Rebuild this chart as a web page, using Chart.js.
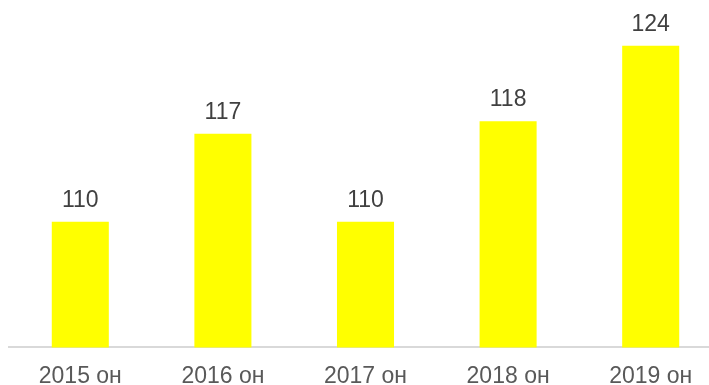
<!DOCTYPE html>
<html>
<head>
<meta charset="utf-8">
<script src="https://cdn.jsdelivr.net/npm/chart.js@4"></script>
<style>
  html, body { margin: 0; padding: 0; background: #fff; overflow: hidden; }
  #wrap { width: 722px; height: 397px; position: relative; }
</style>
</head>
<body>
<div id="wrap"><canvas id="salesChart"></canvas></div>
<script>
'use strict';

let years = ['2015 он', '2016 он', '2017 он', '2018 он', '2019 он'];
let values = [110, 117, 110, 118, 124];

// value labels above each bar
let barLabels = {
  id: 'barLabels',
  afterDatasetsDraw(chart) {
    let ctx = chart.ctx;
    let meta = chart.getDatasetMeta(0);
    ctx.save();
    ctx.font = '23px "Liberation Sans", Arial, sans-serif';
    ctx.fillStyle = '#404040';
    ctx.textAlign = 'center';
    ctx.textBaseline = 'alphabetic';
    for (let i = 0; i < meta.data.length; i++) {
      let bar = meta.data[i];
      ctx.fillText(values[i], bar.x, bar.y - 15);
    }
    ctx.restore();
  }
};

let config = {
  type: 'bar',
  data: {
    labels: years,
    datasets: [
      {
        data: values,
        backgroundColor: '#ffff00',
        borderWidth: 0,
        barPercentage: 0.4,
        categoryPercentage: 1
      }
    ]
  },
  options: {
    responsive: true,
    maintainAspectRatio: false,
    animation: false,
    layout: {
      padding: { left: 9, right: 0, top: 8, bottom: 0 }
    },
    plugins: {
      legend: { display: false },
      tooltip: { enabled: false }
    },
    scales: {
      x: {
        grid: { display: false },
        border: { display: true, color: '#d9d9d9', width: 2 },
        ticks: {
          color: '#595959',
          padding: 7,
          font: { family: '"Liberation Sans", Arial, sans-serif', size: 23 }
        }
      },
      y: {
        display: false,
        min: 100,
        max: 127
      }
    }
  },
  plugins: [barLabels]
};

let myChart = new Chart(document.getElementById('salesChart'), config);
</script>
</body>
</html>
